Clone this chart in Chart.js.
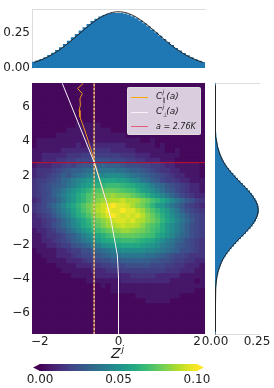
<!DOCTYPE html>
<html>
<head>
<meta charset="utf-8">
<script src="https://cdn.jsdelivr.net/npm/chart.js@4"></script>
<style>
  html, body { margin:0; padding:0; background:#fff; overflow:hidden; }
  #page { position:relative; width:274px; height:388px; font-family:"DejaVu Sans",sans-serif; color:#222; }
  canvas { position:absolute; left:0; top:0; }
  #legend { position:absolute; left:127px; top:87px; width:74px; height:48px; box-sizing:border-box;
    background:rgba(255,255,255,.8); border:1px solid rgba(225,225,225,.8); border-radius:2px; }
  .sw { position:absolute; left:3px; width:17px; height:1px; }
  .lb { position:absolute; left:28px; font:italic 9px "DejaVu Sans",sans-serif; line-height:11px; white-space:nowrap; }
  .lb i { position:absolute; left:6.5px; font-size:6px; line-height:7px; font-style:italic; }
  .lb span { margin-left:4px; }
  #xlabel { position:absolute; left:111px; top:345px; font:italic 14px "DejaVu Sans",sans-serif; line-height:17px; }
  #xlabel sup { font-size:9px; position:relative; top:-1px; vertical-align:top; margin-left:1px; line-height:10px; }
</style>
</head>
<body>
<div id="page">
  <canvas id="main" width="274" height="388"></canvas>
  <canvas id="top" width="274" height="388"></canvas>
  <canvas id="right" width="274" height="388"></canvas>
  <canvas id="cbar" width="274" height="388"></canvas>
  <div id="legend">
    <div class="sw" style="top:9px;background:#ffa500"></div>
    <div class="lb" style="top:3px">C<i style="top:-3px">j</i><i style="top:5px">∥</i><span>(a)</span></div>
    <div class="sw" style="top:24px;background:#f7f2f8"></div>
    <div class="lb" style="top:18px">C<i style="top:-3px">j</i><i style="top:5px">⊥</i><span>(a)</span></div>
    <div class="sw" style="top:38px;background:#e0607a"></div>
    <div class="lb" style="top:33px;font-size:8px">a = 2.76K</div>
  </div>
  <div id="xlabel">Z<sup>j</sup></div>
</div>
<script>
// heat map, one string per row from top to bottom, each char indexes heatLevels (base 36)
const heatLevels = [.002,.006,.011,.015,.018,.021,.024,.027,.030,.033,.036,.039,.042,.045,.048,.051,.053,.056,.059,.061,.063,.065,.068,.070,.072,.074,.076,.078,.080,.082,.085,.087,.089,.092,.095,.100];
const heatRows = [
  "00000000000000000000000000000000000",
  "00000000000000000000000000000000000",
  "00000000000000000000000000000000000",
  "00000000000000000000000000000000000",
  "00000000000000000000000000000000000",
  "00000000000000000000000000000000000",
  "00000000000000000000000000000000000",
  "00000000000000000000000000000000000",
  "00000000011111000000000000000000000",
  "00000001111111110000000000000000000",
  "00000111111111111110000000000000000",
  "01111111111111111111110010000000000",
  "01111111121222222221111110100000000",
  "11111122222233332222211111100100000",
  "11222223334444444433322211111100000",
  "11222334455566665554433222111000000",
  "12223345467788988876665544322111110",
  "23334567889aabbbbaa9887654332211110",
  "23345687 9abcdedeeedcba9876543221110".replace(" ",""),
  "3445679acdegghiiihhgedba87544322111",
  "3456789bceghjklmmmlkjhgeca976543221",
  "345689bdfhjlnopqqponmkhgeca87543221",
  "34568acegjloprstuttsqomkhfdb9754322",
  "235679begjloqtuvwwxvvusqnligdb97643",
  "34579bdgilortvxyzyyxvtrolhgdb975432",
  "34568acehknqtwxzyyzyywuroligdb86543",
  "234579bdgjloruwyzyxyxywtqnkheca8654",
  "2234579bdgilortvxyyxywvtroligdb9754",
  "2234679bdfiknpsuvwxwwvtqomjgeca8654",
  "12234679bdfhkmoqstuutsrpnljgeca8654",
  "112334578acegikmopqqqponmjhfdb98654",
  "1122345689bcegijklmmmlkjigecb986543",
  "111223446789bcefghiiiihgfecba876543",
  "01111223446689abcdeeeeeddcba9866543",
  "00111222345567 89aabbbbbaa987655433".replace(" ","").padEnd(35,"3"),
  "00011112223445667788888877665443322",
  "00000111122233445556666655544332221",
  "00000011111122233344444444433322211",
  "00000000111112222222333332222211111",
  "00000000000111111122222222221111101",
  "00000000000000101111111111111111111",
  "00000000000000001111111111111111100",
  "00000000000000000000011111111100000",
  "00000000000000000000000111110000000",
  "00000000000000000000000000000000000",
  "00000000000000000000000000000000000",
  "00000000000000000000000000000000000",
  "00000000000000000000000000000000000",
  "00000000000000000000000000000000000",
  "00000000000000000000000000000000000"
];
const xMin = -2.2, xMax = 2.2, yMin = -7.22, yMax = 7.4;

// top marginal
const topBins = [-2.15,-2.05,-1.95,-1.85,-1.75,-1.65,-1.55,-1.45,-1.35,-1.25,-1.15,-1.05,-0.95,-0.85,-0.75,-0.65,-0.55,-0.45,-0.35,-0.25,-0.15,-0.05,0.05,0.15,0.25,0.35,0.45,0.55,0.65,0.75,0.85,0.95,1.05,1.15,1.25,1.35,1.45,1.55,1.65,1.75,1.85,1.95,2.05,2.15];
const topHist = [.040,.050,.060,.073,.088,.105,.124,.144,.167,.190,.214,.238,.263,.286,.308,.329,.346,.361,.373,.381,.386,.387,.386,.383,.375,.364,.350,.333,.313,.292,.270,.248,.225,.202,.180,.159,.139,.120,.103,.087,.072,.059,.048,.039];
const topCurve = [.0396,.0488,.0596,.0721,.0863,.1023,.120,.1394,.1604,.1826,.2059,.2299,.2541,.278,.3011,.323,.3429,.3605,.3752,.3867,.3945,.3984,.3984,.3945,.3867,.3752,.3605,.3429,.323,.3011,.278,.2541,.2299,.2059,.1826,.1604,.1394,.120,.1023,.0863,.0721,.0596,.0488,.0396];

// right marginal, 100 bins from top to bottom
const rightHist = [0,0,0,0,0,0,0,0,0,.0001,.0001,.0002,.0003,.0005,.0007,.0011,.0015,.0019,.0026,.0034,.0047,.0057,.0078,.0094,.0125,.015,.0193,.0239,.029,.035,.042,.05,.059,.069,.081,.093,.1065,.1195,.134,.148,.163,.177,.1925,.2055,.218,.228,.238,.246,.252,.256,.257,.257,.253,.248,.241,.231,.221,.209,.195,.181,.1665,.1515,.137,.123,.1095,.0957,.084,.072,.062,.052,.044,.036,.031,.025,.02,.016,.013,.01,.008,.0062,.0048,.0036,.0027,.0021,.0015,.0011,.0009,.0005,.0004,.0002,.0001,.0001,0,0,0,0,0,0,0,0];
const rightCurve = [0,0,0,.0001,.0002,.0004,.0006,.0011,.0019,.0033,.0055,.0089,.014,.0218,.0325,.0465,.0645,.0875,.1135,.1415,.1705,.1995,.2235,.2425,.2545,.2575,.251,.2365,.2155,.1885,.1595,.1305,.103,.0785,.0575,.0405,.0285,.0185,.012,.0075,.0046,.0027,.0015,.0008,.0004,.0002,.0001,0,0,0];

// lines on the main plot
const parX = [-0.90,-1.04,-0.92,-0.98,-0.97,-1.0,-0.98,-0.92,-0.83,-0.75,-0.67,-0.61,-0.45,-0.29];
const parY = [7.37,7.08,6.79,6.49,6.1,5.81,5.42,5.04,4.46,3.88,3.3,2.81,1.58,0.35];
const perpX = [-1.43,-0.62,-0.29,-0.2,-0.13,-0.03,0,0];
const perpY = [7.38,2.79,0.35,-0.47,-1.34,-2.62,-3.9,-7.22];
const vLineX = -0.62;
const aLine = 2.76;

// ticks
const mainXTicks = [-2,0,2];
const mainYTicks = [-6,-4,-2,0,2,4,6];
const topYTicks = [0,0.25];
const rightXTicks = [0,0.25];
const cbarTicks = [0,0.05,0.1];
const cbarBins = [0,.002,.004,.006,.008,.01,.012,.014,.016,.018,.02,.022,.024,.026,.028,.03,.032,.034,.036,.038,.04,.042,.044,.046,.048,.05,.052,.054,.056,.058,.06,.062,.064,.066,.068,.07,.072,.074,.076,.078,.08,.082,.084,.086,.088,.09,.092,.094,.096,.098];

const viridis = ['#440154','#482475','#414487','#355f8d','#2a788e','#21918c','#22a884','#44bf70','#7ad151','#bddf26','#fde725'];

function hexRgb(h){ return [1,3,5].map(i=>parseInt(h.substr(i,2),16)); }
function colorFor(v){
  let t = Math.min(Math.max(v/0.1,0),1)*10;
  let i = Math.min(Math.floor(t),9), f = t-i;
  let a = hexRgb(viridis[i]), b = hexRgb(viridis[i+1]);
  return `rgb(${a.map((c,k)=>Math.round(c+(b[k]-c)*f)).join(',')})`;
}
function fixTicks(list){ return s => { s.ticks = list.map(v=>({value:v})); }; }
function fixWidth(w){ return s => { s.width = w; }; }
function fixHeight(h){ return s => { s.height = h; }; }

const tickFont = { family:'"DejaVu Sans"', size:12 };
const noGrid = { display:false, drawTicks:false };
const base = {
  responsive:false, animation:false, events:[], devicePixelRatio:1,
  plugins:{ legend:{display:false}, tooltip:{enabled:false} }
};

// main plot
const heatCols = heatRows[0].length;
const cellW = (xMax-xMin)/heatCols, cellH = (yMax-yMin)/heatRows.length;
const cells = [], cellColors = [];
heatRows.forEach((row,r)=>{
  row.split('').forEach((ch,c)=>{
    cells.push({ x:xMin+cellW*(c+.5), y:[yMax-cellH*(r+1), yMax-cellH*r] });
    cellColors.push(colorFor(heatLevels[parseInt(ch,36)]));
  });
});
const zip = (xs,ys)=>xs.map((x,i)=>({x,y:ys[i]}));
const lineDs = (data,color,order,extra)=>Object.assign({type:'line',data,borderColor:color,borderWidth:1,pointRadius:0,tension:0,order},extra||{});

new Chart(document.getElementById('main'),{
  type:'bar',
  data:{datasets:[
    {data:cells,backgroundColor:cellColors,barPercentage:1,categoryPercentage:1,grouped:false,inflateAmount:.5,order:9},
    lineDs(zip(parX,parY),'#f2951f',5),
    lineDs(zip([vLineX,vLineX],[yMin,yMax]),'#e8912a',4),
    lineDs(zip(perpX,perpY),'#f6f2f8',3),
    lineDs(zip([vLineX,vLineX],[yMin,yMax]),'#f3e3cf',2,{borderDash:[2,2]}),
    lineDs(zip([xMin,xMax],[aLine,aLine]),'#c8102e',1)
  ]},
  options:Object.assign({},base,{
    layout:{padding:{left:0,top:83,right:69,bottom:0}},
    scales:{
      x:{type:'linear',min:xMin,max:xMax,offset:false,grid:noGrid,border:{display:false},
         afterBuildTicks:fixTicks(mainXTicks),afterFit:fixHeight(54),
         ticks:{font:tickFont,color:'#222',maxRotation:0,padding:1,
           callback:v=>String(v).replace('-','\u2212')}},
      y:{type:'linear',min:yMin,max:yMax,grid:noGrid,border:{display:false},
         afterBuildTicks:fixTicks(mainYTicks),afterFit:fixWidth(32),
         ticks:{font:tickFont,color:'#222',padding:2,
           callback:v=>String(v).replace('-','\u2212')}}
    }
  })
});

// top marginal
new Chart(document.getElementById('top'),{
  type:'bar',
  data:{datasets:[
    {data:zip(topBins,topHist),backgroundColor:'#1f77b4',barPercentage:1,categoryPercentage:1,inflateAmount:.5,order:2},
    lineDs(zip(topBins,topCurve),'#222',1)
  ]},
  options:Object.assign({},base,{
    layout:{padding:{left:0,top:8,right:69,bottom:320}},
    scales:{
      x:{type:'linear',min:xMin,max:xMax,offset:false,display:false},
      x2:{type:'linear',position:'top',min:xMin,max:xMax,grid:noGrid,ticks:{display:false},
          border:{color:'#ddd'},afterFit:fixHeight(0)},
      y:{type:'linear',min:0,max:0.417,grid:noGrid,border:{color:'#ddd'},
         afterBuildTicks:fixTicks(topYTicks),afterFit:fixWidth(32),
         ticks:{font:tickFont,color:'#222',padding:2,callback:v=>v.toFixed(2)}}
    }
  })
});

// right marginal
const rowCenters = heatRows.map((_,r)=>yMax-cellH*(r+.5));
const binCenters = rightHist.map((_,i)=>yMax-(yMax-yMin)/rightHist.length*(i+.5));
new Chart(document.getElementById('right'),{
  type:'bar',
  data:{datasets:[
    {data:zip(rightHist,binCenters),backgroundColor:'#1f77b4',barPercentage:1,categoryPercentage:1,inflateAmount:.5,order:2},
    lineDs(zip(rightCurve,rowCenters),'#222',1)
  ]},
  options:Object.assign({},base,{
    indexAxis:'y',
    layout:{padding:{left:215,top:83,right:15,bottom:0}},
    scales:{
      x:{type:'linear',min:0,max:0.262,grid:noGrid,border:{color:'#ddd'},
         afterBuildTicks:fixTicks(rightXTicks),afterFit:fixHeight(54),
         ticks:{font:tickFont,color:'#222',maxRotation:0,padding:1,callback:v=>v.toFixed(2)}},
      x2:{type:'linear',position:'top',min:0,max:0.262,grid:noGrid,ticks:{display:false},
          border:{color:'#ddd'},afterFit:fixHeight(0)},
      y:{type:'linear',min:yMin,max:yMax,offset:false,grid:noGrid,border:{color:'#888'},
         ticks:{display:false},afterFit:fixWidth(0)}
    }
  })
});

// colour bar
const cbarStep = cbarBins[1]-cbarBins[0];
const cbarLo = -0.0045, cbarHi = 0.1045;
new Chart(document.getElementById('cbar'),{
  type:'bar',
  data:{datasets:[
    {data:cbarBins.map(b=>({x:b+cbarStep/2,y:1})),backgroundColor:cbarBins.map(b=>colorFor(b+cbarStep/2)),barPercentage:1,categoryPercentage:1,inflateAmount:.5,order:3},
    {type:'line',data:[{x:cbarLo,y:.5},{x:0,y:1},{x:0,y:0},{x:cbarLo,y:.5}],backgroundColor:viridis[0],borderWidth:0,pointRadius:0,fill:'shape',order:1},
    {type:'line',data:[{x:cbarHi,y:.5},{x:.1,y:1},{x:.1,y:0},{x:cbarHi,y:.5}],backgroundColor:viridis[10],borderWidth:0,pointRadius:0,fill:'shape',order:2}
  ]},
  options:Object.assign({},base,{
    layout:{padding:{left:33,top:364,right:70,bottom:0}},
    scales:{
      x:{type:'linear',min:cbarLo,max:cbarHi,offset:false,grid:noGrid,border:{display:false},
         afterBuildTicks:fixTicks(cbarTicks),afterFit:fixHeight(17),
         ticks:{font:tickFont,color:'#222',maxRotation:0,padding:2,callback:v=>v.toFixed(2)}},
      y:{type:'linear',min:0,max:1,display:false}
    }
  })
});
</script>
</body>
</html>
